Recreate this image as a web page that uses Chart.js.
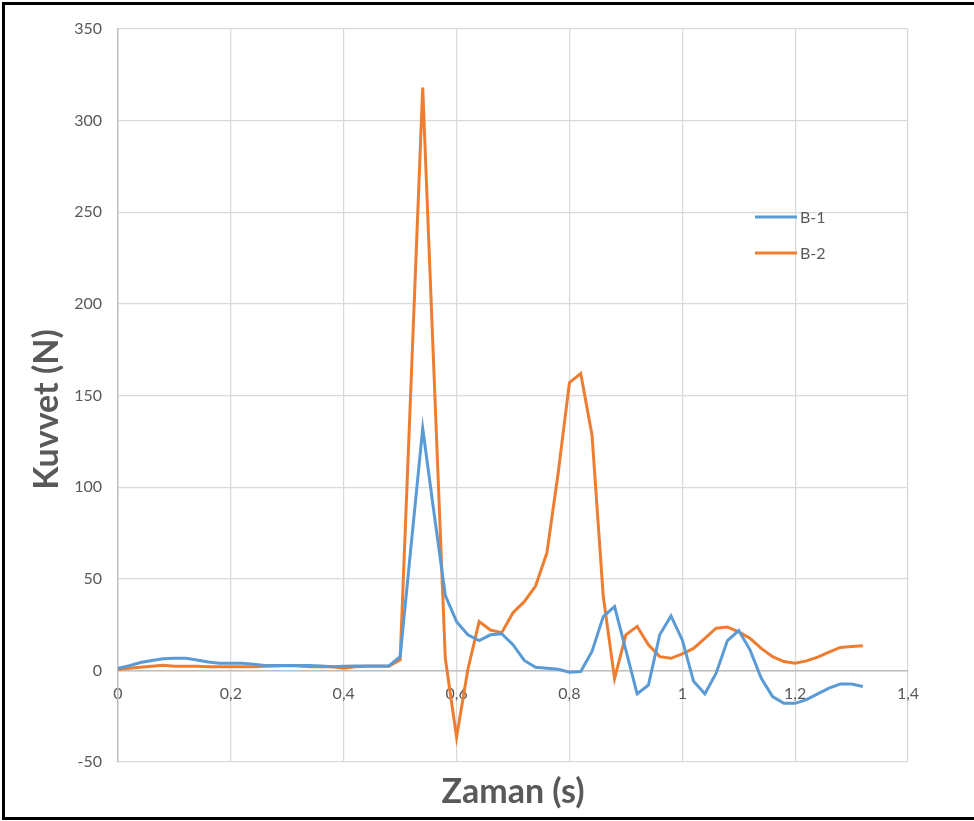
<!DOCTYPE html>
<html>
<head>
<meta charset="utf-8">
<script src="https://cdn.jsdelivr.net/npm/chart.js@4.4.0/dist/chart.umd.min.js"></script>
<style>
  html, body { margin: 0; padding: 0; background: #ffffff; overflow: hidden; }
  #wrap { position: relative; width: 974px; height: 821px; overflow: hidden; }
  #c { position: absolute; left: 0; top: 0; }
  #frame { position: absolute; left: 2px; top: 2px; width: 990px; height: 812px; border: 3px solid #000; pointer-events: none; }
</style>
</head>
<body>
<div id="wrap">
  <canvas id="c" width="974" height="821"></canvas>
  <div id="frame"></div>
</div>
<script>
const times = [0, 0.02, 0.04, 0.06, 0.08, 0.10, 0.12, 0.14, 0.16, 0.18,
  0.20, 0.22, 0.24, 0.26, 0.28, 0.30, 0.32, 0.34, 0.36, 0.38,
  0.40, 0.42, 0.44, 0.46, 0.48, 0.50, 0.52, 0.54, 0.56, 0.58,
  0.60, 0.62, 0.64, 0.66, 0.68, 0.70, 0.72, 0.74, 0.76, 0.78,
  0.80, 0.82, 0.84, 0.86, 0.88, 0.90, 0.92, 0.94, 0.96, 0.98,
  1.00, 1.02, 1.04, 1.06, 1.08, 1.10, 1.12, 1.14, 1.16, 1.18,
  1.20, 1.22, 1.24, 1.26, 1.28, 1.30, 1.32];

const b1 = [1.2, 2.5, 4.3, 5.4, 6.3, 6.6, 6.6, 5.7, 4.6, 3.9,
  3.9, 3.9, 3.4, 2.6, 2.6, 2.6, 2.6, 2.6, 2.4, 2.0,
  2.2, 2.4, 2.4, 2.4, 2.4, 7.5, 70, 132, 86, 41,
  26.6, 19.4, 16.3, 19.4, 20, 14, 5.4, 1.7, 1.2, 0.6,
  -1, -0.6, 10.3, 29.4, 34.8, 11, -12.8, -8, 19.4, 29.7,
  16.6, -6, -12.8, -1.5, 16.3, 21.7, 11.2, -4.3, -14.3, -18,
  -18, -16, -12.8, -9.7, -7.5, -7.5, -8.8];

const b2 = [0.5, 1.2, 1.7, 2.2, 2.8, 2.2, 2.2, 2.2, 2.0, 2.0,
  2.0, 2.0, 2.0, 2.2, 2.4, 2.6, 2.4, 2.0, 2.0, 2.0,
  1.2, 2.0, 2.2, 2.2, 2.2, 5.7, 162, 318, 162, 6.6,
  -36.5, 0.5, 26.6, 22, 20.6, 31.5, 37.5, 46, 64, 107.6,
  157, 162, 128.5, 40.3, -4.5, 19.4, 24, 14, 7.5, 6.6,
  9, 12, 17.5, 23, 23.6, 21, 17.5, 12, 7.5, 4.8,
  3.9, 5.2, 7.2, 10, 12.5, 13, 13.4];

const seriesNames = ['B-1', 'B-2'];
const seriesColors = ['#5B9BD5', '#ED7D31'];
const xTitle = 'Zaman (s)';
const yTitle = 'Kuvvet (N)';
const xMin = 0, xMax = 1.4, xStep = 0.2;
const yMin = -50, yMax = 350, yStep = 50;

const TXT = '#595959';
const FONT = 'Lato, "Open Sans", sans-serif';

function pts(vals) { return times.map((t, i) => ({ x: t, y: vals[i] })); }
function fmt(v) {
  const r = Math.round(v * 10) / 10;
  return Number.isInteger(r) ? String(r) : r.toFixed(1).replace('.', ',');
}

const extras = {
  id: 'extras',
  afterDraw(chart) {
    const ctx = chart.ctx;
    const a = chart.chartArea;
    ctx.save();
    // legend
    chart.data.datasets.forEach((ds, i) => {
      const y = a.top + 188 + i * 36;
      const x0 = a.left + 637;
      ctx.strokeStyle = ds.borderColor;
      ctx.lineWidth = 3;
      ctx.beginPath();
      ctx.moveTo(x0, y);
      ctx.lineTo(x0 + 42, y);
      ctx.stroke();
      ctx.fillStyle = TXT;
      ctx.font = '16px ' + FONT;
      ctx.textAlign = 'left';
      ctx.textBaseline = 'middle';
      ctx.fillText(ds.label, x0 + 45, y + 1);
    });
    // axis titles
    ctx.fillStyle = TXT;
    ctx.font = 'bold 34px ' + FONT;
    ctx.textAlign = 'center';
    ctx.textBaseline = 'middle';
    ctx.fillText(xTitle, (a.left + a.right) / 2, a.bottom + 30);
    ctx.translate(47, (a.top + a.bottom) / 2 + 14);
    ctx.rotate(-Math.PI / 2);
    ctx.fillText(yTitle, 0, 0);
    ctx.restore();
  }
};

new Chart(document.getElementById('c'), {
  type: 'line',
  data: {
    datasets: [
      { label: seriesNames[0], data: pts(b1), borderColor: seriesColors[0], backgroundColor: seriesColors[0],
        borderWidth: 3, pointRadius: 0, tension: 0, fill: false },
      { label: seriesNames[1], data: pts(b2), borderColor: seriesColors[1], backgroundColor: seriesColors[1],
        borderWidth: 3, pointRadius: 0, tension: 0, fill: false }
    ]
  },
  options: {
    responsive: false,
    animation: false,
    layout: { padding: { left: 58, right: 66, top: 29, bottom: 59 } },
    plugins: { legend: { display: false }, tooltip: { enabled: false }, title: { display: false } },
    scales: {
      x: {
        type: 'linear',
        position: { y: 0 },
        min: xMin, max: xMax,
        afterFit(s) { s.height = 0; },
        ticks: { stepSize: xStep, padding: 14, color: TXT, font: { family: FONT, size: 16 }, callback: (v) => fmt(v), maxRotation: 0 },
        grid: { color: '#d9d9d9', lineWidth: 1.25, drawTicks: false },
        border: { color: '#bfbfbf', width: 1.5 }
      },
      y: {
        type: 'linear',
        min: yMin, max: yMax,
        afterFit(s) { s.width = 60; },
        ticks: { stepSize: yStep, padding: 16, color: TXT, font: { family: FONT, size: 16 } },
        grid: { color: '#d9d9d9', lineWidth: 1.25, drawTicks: false },
        border: { color: '#bfbfbf', width: 1.5 }
      }
    }
  },
  plugins: [extras]
});
</script>
</body>
</html>
